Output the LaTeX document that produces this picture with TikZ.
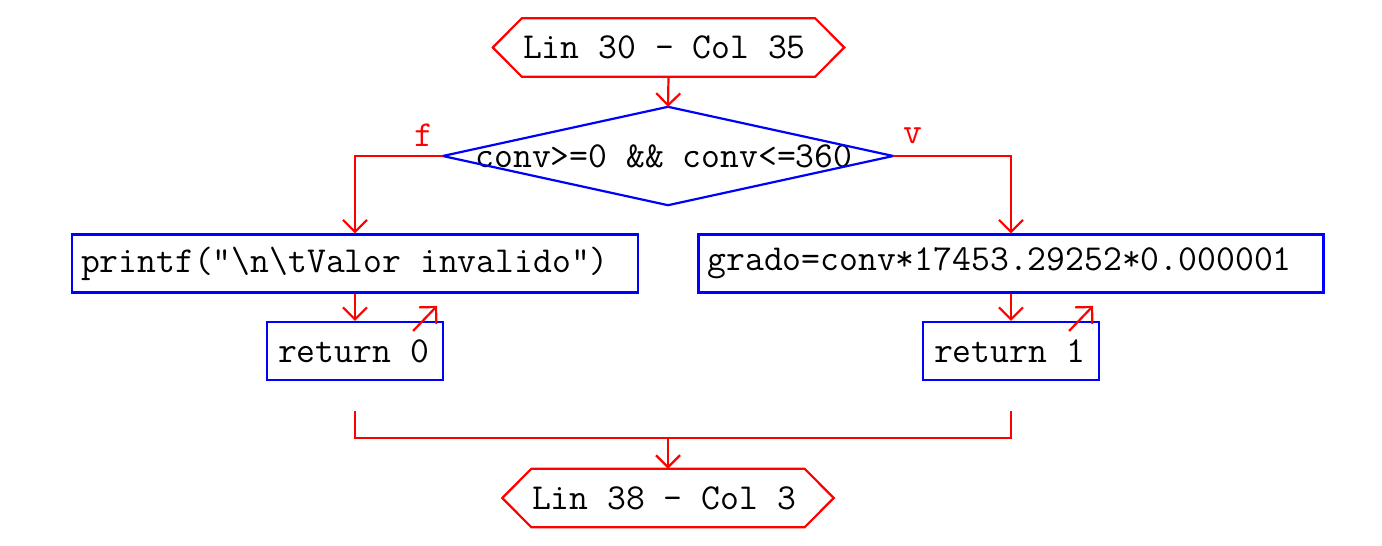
\documentclass[tikz,border=0pt]{standalone}
\usetikzlibrary{arrows.meta}
\definecolor{fred}{RGB}{255,0,0}
\definecolor{fblue}{RGB}{0,0,255}
\newcommand{\codefont}{\ttfamily\fontsize{36.6pt}{40pt}\selectfont}
\newcommand{\lsh}{\hspace*{-8pt}}
\newcommand{\ssh}{\hspace*{-3pt}}
\tikzset{
  flow/.style={draw=fred, line width=2.2pt},
  arr/.style={flow, -{Straight Barb[length=12pt,width=24pt]}},
  term/.style={rectangle, inner sep=0pt, minimum height=58pt, font=\codefont, text=black},
  dec/.style={rectangle, inner sep=0pt, minimum width=450pt, minimum height=98pt, font=\codefont, text=black},
  proc/.style={rectangle, draw=fblue, line width=2.2pt, minimum height=58pt, inner xsep=9pt, inner ysep=0pt, font=\codefont, text=black},
  ret/.style={rectangle, draw=fblue, line width=2.2pt, minimum width=176pt, minimum height=58pt, inner sep=0pt, font=\codefont, text=black},
  lbl/.style={text=fred, font=\codefont, inner sep=0pt},
  blueline/.style={draw=fblue, line width=2.2pt},
}
\begin{document}
\begin{tikzpicture}[x=1pt,y=-1pt]
\useasboundingbox (0,0) rectangle (1382,546);
% nodes
\node[term, minimum width=293pt] (s) at (668.5,47.5) {\lsh Lin 30 - Col 35};
\node[dec] (d) at (668,156) {\lsh conv>=0 \&\& conv<=360};
\node[proc] (p1) at (355,263.5) {\makebox[548pt][l]{printf("\textbackslash n\textbackslash tValor invalido")}};
\node[proc] (p2) at (1011,263.5) {\makebox[607pt][l]{grado=conv*17453.29252*0.000001}};
\node[ret] (r0) at (355,351) {\ssh return 0};
\node[ret] (r1) at (1011,351) {\ssh return 1};
\node[term, minimum width=273pt] (e) at (668,498) {\lsh Lin 38 - Col 3};
\node[lbl] (lf) at ([xshift=-19pt,yshift=21pt]d.west) {f};
\node[lbl] (lv) at ([xshift=20pt,yshift=20pt]d.east) {v};
% shapes
\draw[flow] (s.north west) -- (s.north east) -- ([xshift=29pt]s.east) -- (s.south east) -- (s.south west) -- ([xshift=-29pt]s.west) -- cycle;
\draw[flow] (e.north west) -- (e.north east) -- ([xshift=29pt]e.east) -- (e.south east) -- (e.south west) -- ([xshift=-29pt]e.west) -- cycle;
\draw[blueline] (d.north) -- (d.east) -- (d.south) -- (d.west) -- cycle;
% connectors
\draw[arr] (s.south) -- (d.north);
\draw[arr] (d.west) -| (p1.north);
\draw[arr] (d.east) -| (p2.north);
\draw[arr] (p1.south) -- (r0.north);
\draw[arr] (p2.south) -- (r1.north);
\coordinate (r0a) at ([xshift=-31pt,yshift=-10pt]r0.north east);
\coordinate (r0b) at ([xshift=-7pt,yshift=15pt]r0.north east);
\coordinate (r1a) at ([xshift=-31pt,yshift=-10pt]r1.north east);
\coordinate (r1b) at ([xshift=-7pt,yshift=15pt]r1.north east);
\draw[arr] (r0a) -- (r0b);
\draw[arr] (r1a) -- (r1b);
\coordinate (m0) at ([yshift=-30pt]r0.south);
\coordinate (m1) at ([yshift=-30pt]r1.south);
\coordinate (j) at ([yshift=31pt]e.north);
\draw[flow] (m0) -- (m0 |- j) -- (m1 |- j) -- (m1);
\draw[arr] (j) -- (e.north);
\end{tikzpicture}
\end{document}
